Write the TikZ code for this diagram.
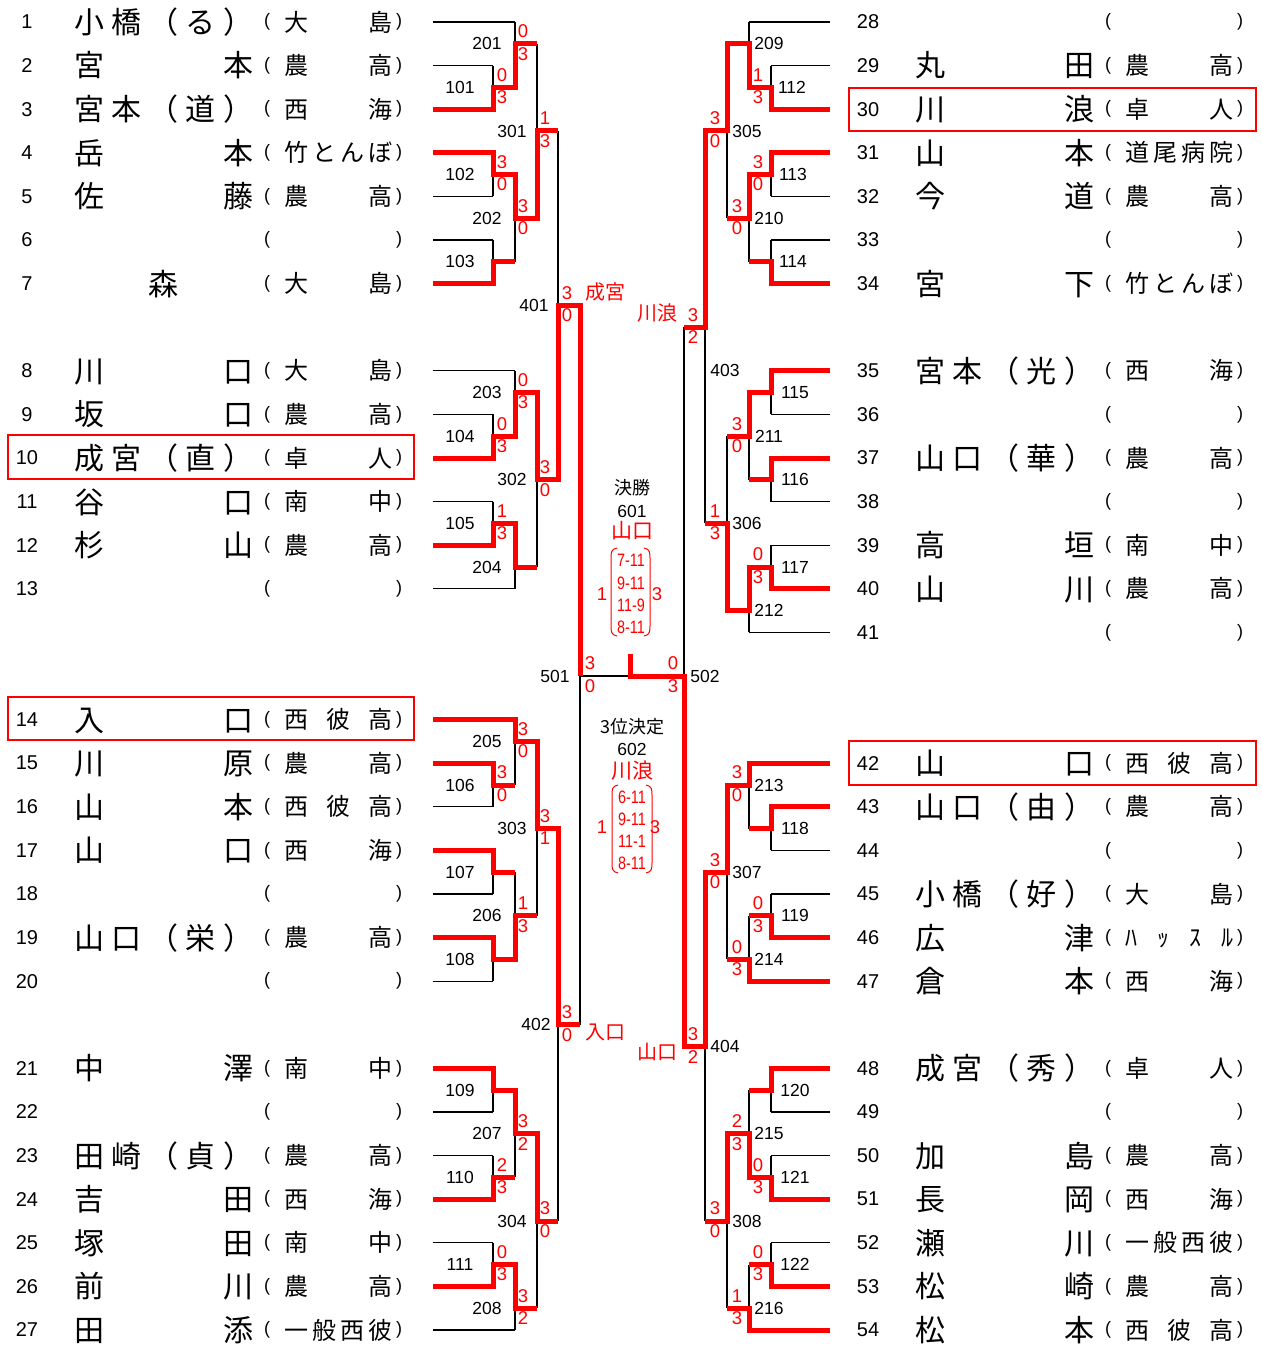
\documentclass[tikz,border=0pt]{standalone}
\usepackage{fontspec}
\setmainfont{Liberation Sans}
\newfontfamily\jp{Noto Sans CJK JP}
\newcommand\pnm[1]{\makebox[179pt][s]{\jp\fontsize{30}{30}\selectfont #1}}
\newcommand\snm[1]{\makebox[108pt][s]{\jp\fontsize{24}{24}\selectfont #1}}
\newcommand\cs[1]{\scalebox{0.8}[1]{#1}}
\tikzset{
  numt/.style={font=\fontsize{20}{20}\selectfont, inner sep=0, anchor=center},
  namet/.style={inner sep=0, anchor=base west},
  part/.style={font=\fontsize{18}{18}\selectfont, inner sep=0, anchor=center},
  mnum/.style={font=\fontsize{17.5}{17.5}\selectfont, inner sep=0, anchor=center},
  score/.style={font=\fontsize{18.5}{18.5}\selectfont, text=red, inner sep=0, anchor=center},
  ctext/.style={font=\jp\fontsize{18}{18}\selectfont, inner sep=0, anchor=center},
  rname/.style={font=\jp\fontsize{20}{20}\selectfont, text=red, inner sep=0, anchor=center},
  cscore/.style={font=\fontsize{18}{18}\selectfont, text=red, inner sep=0, anchor=center},
  skel/.style={line width=1.1pt, black},
  win/.style={line width=5pt, red, line join=miter},
  hl/.style={draw=red, line width=2pt},
  brk/.style={draw=red, line width=1pt}
}
\newcommand\prow[5]{%
  \pgfmathsetmacro\yy{22+43.6*#2}%
  \node[numt] (num#3) at ({27+#1},\yy) {#3};
  \node[namet] (nm#3) at ({74+#1},{\yy+11.4}) {\pnm{#4}};
  \node[part] (lp#3) at ({267+#1},\yy) {(};
  \node[namet] (sc#3) at ({284+#1},{\yy+9.1}) {\snm{#5}};
  \node[part] (rp#3) at ({399+#1},\yy) {)};
}
\begin{document}
\begin{tikzpicture}[x=1pt,y=-1pt]
\useasboundingbox (0,0) rectangle (1261,1348);
% ---------- player rows ----------
\prow{0}{0}{1}{小\hfill 橋\hfill （\hfill る\hfill ）}{大\hfill 島}
\prow{0}{1}{2}{宮\hfill 本}{農\hfill 高}
\prow{0}{2}{3}{宮\hfill 本\hfill （\hfill 道\hfill ）}{西\hfill 海}
\prow{0}{3}{4}{岳\hfill 本}{竹\hfill と\hfill ん\hfill ぼ}
\prow{0}{4}{5}{佐\hfill 藤}{農\hfill 高}
\prow{0}{5}{6}{}{}
\prow{0}{6}{7}{\hfill 森\hfill}{大\hfill 島}
\prow{0}{8}{8}{川\hfill 口}{大\hfill 島}
\prow{0}{9}{9}{坂\hfill 口}{農\hfill 高}
\prow{0}{10}{10}{成\hfill 宮\hfill （\hfill 直\hfill ）}{卓\hfill 人}
\prow{0}{11}{11}{谷\hfill 口}{南\hfill 中}
\prow{0}{12}{12}{杉\hfill 山}{農\hfill 高}
\prow{0}{13}{13}{}{}
\prow{0}{16}{14}{入\hfill 口}{西\hfill 彼\hfill 高}
\prow{0}{17}{15}{川\hfill 原}{農\hfill 高}
\prow{0}{18}{16}{山\hfill 本}{西\hfill 彼\hfill 高}
\prow{0}{19}{17}{山\hfill 口}{西\hfill 海}
\prow{0}{20}{18}{}{}
\prow{0}{21}{19}{山\hfill 口\hfill （\hfill 栄\hfill ）}{農\hfill 高}
\prow{0}{22}{20}{}{}
\prow{0}{24}{21}{中\hfill 澤}{南\hfill 中}
\prow{0}{25}{22}{}{}
\prow{0}{26}{23}{田\hfill 崎\hfill （\hfill 貞\hfill ）}{農\hfill 高}
\prow{0}{27}{24}{吉\hfill 田}{西\hfill 海}
\prow{0}{28}{25}{塚\hfill 田}{南\hfill 中}
\prow{0}{29}{26}{前\hfill 川}{農\hfill 高}
\prow{0}{30}{27}{田\hfill 添}{一\hfill 般\hfill 西\hfill 彼}
\prow{841}{0}{28}{}{}
\prow{841}{1}{29}{丸\hfill 田}{農\hfill 高}
\prow{841}{2}{30}{川\hfill 浪}{卓\hfill 人}
\prow{841}{3}{31}{山\hfill 本}{道\hfill 尾\hfill 病\hfill 院}
\prow{841}{4}{32}{今\hfill 道}{農\hfill 高}
\prow{841}{5}{33}{}{}
\prow{841}{6}{34}{宮\hfill 下}{竹\hfill と\hfill ん\hfill ぼ}
\prow{841}{8}{35}{宮\hfill 本\hfill （\hfill 光\hfill ）}{西\hfill 海}
\prow{841}{9}{36}{}{}
\prow{841}{10}{37}{山\hfill 口\hfill （\hfill 華\hfill ）}{農\hfill 高}
\prow{841}{11}{38}{}{}
\prow{841}{12}{39}{高\hfill 垣}{南\hfill 中}
\prow{841}{13}{40}{山\hfill 川}{農\hfill 高}
\prow{841}{14}{41}{}{}
\prow{841}{17}{42}{山\hfill 口}{西\hfill 彼\hfill 高}
\prow{841}{18}{43}{山\hfill 口\hfill （\hfill 由\hfill ）}{農\hfill 高}
\prow{841}{19}{44}{}{}
\prow{841}{20}{45}{小\hfill 橋\hfill （\hfill 好\hfill ）}{大\hfill 島}
\prow{841}{21}{46}{広\hfill 津}{ﾊ\hfill ｯ\hfill ｽ\hfill ﾙ}
\prow{841}{22}{47}{倉\hfill 本}{西\hfill 海}
\prow{841}{24}{48}{成\hfill 宮\hfill （\hfill 秀\hfill ）}{卓\hfill 人}
\prow{841}{25}{49}{}{}
\prow{841}{26}{50}{加\hfill 島}{農\hfill 高}
\prow{841}{27}{51}{長\hfill 岡}{西\hfill 海}
\prow{841}{28}{52}{瀬\hfill 川}{一\hfill 般\hfill 西\hfill 彼}
\prow{841}{29}{53}{松\hfill 崎}{農\hfill 高}
\prow{841}{30}{54}{松\hfill 本}{西\hfill 彼\hfill 高}
% highlight boxes
\draw[hl] (8,435) rectangle (414,479);
\draw[hl] (8,697) rectangle (414,740);
\draw[hl] (849,88) rectangle (1256,131);
\draw[hl] (849,741) rectangle (1256,785);
% ---------- skeleton ----------
\foreach \n/\e in {0/515,2/493,4/493,6/493,8/493,10/493,12/493,16/515,18/493,20/493,22/493,24/493,26/515,32/515,34/493,36/493,38/493,40/493,42/493,44/493,48/493,50/493,52/493,54/493,56/493,58/493,60/515}
  \draw[skel] (433,{22+21.8*\n}) -- (\e,{22+21.8*\n});
\foreach \n/\e in {0/749,2/771,4/771,6/771,8/771,10/771,12/771,16/771,18/771,20/771,22/771,24/771,26/771,28/749,34/749,36/771,38/771,40/771,42/771,44/749,48/771,50/771,52/771,54/771,56/771,58/771,60/749}
  \draw[skel] (830,{22+21.8*\n}) -- (\e,{22+21.8*\n});
\foreach \c/\a/\b/\j/\nx in {493/2/4/3/515,493/6/8/7/515,493/10/12/11/515,493/18/20/19/515,493/22/24/23/515,493/34/36/35/515,493/38/40/39/515,493/42/44/43/515,493/48/50/49/515,493/52/54/53/515,493/56/58/57/515,
 515/0/3/1/537,515/7/11/9/537,515/16/19/17/537,515/23/26/25/537,515/32/35/33/537,515/39/43/41/537,515/49/53/51/537,515/57/60/59/537,
 537/1/9/5/558,537/17/25/21/558,537/33/41/37/558,537/51/59/55/558,
 558/5/21/13/580,558/37/55/46/580,580/13/46/30/684,
 771/2/4/3/749,771/6/8/7/749,771/10/12/11/749,771/16/18/17/749,771/20/22/21/749,771/24/26/25/749,771/36/38/37/749,771/40/42/41/749,771/48/50/49/749,771/52/54/53/749,771/56/58/57/749,
 749/0/3/1/727,749/7/11/9/727,749/17/21/19/727,749/25/28/27/727,749/34/37/35/727,749/41/44/43/727,749/49/53/51/727,749/57/60/59/727,
 727/1/9/5/705,727/19/27/23/705,727/35/43/39/705,727/51/59/55/705,
 705/5/23/14/684,705/39/55/47/684,684/14/47/30/684}
 {\draw[skel] (\c,{22+21.8*\a}) -- (\c,{22+21.8*\b});
  \draw[skel] (\c,{22+21.8*\j}) -- (\nx,{22+21.8*\j});}
% ---------- winners (red) ----------
\draw[win] (433,109.2) -| (493,87.4) -| (515,43.8) -- (537,43.8);
\draw[win] (433,152.8) -| (493,174.6) -| (515,218.2) -| (537,131) -- (558,131);
\draw[win] (433,283.6) -| (493,261.8) -- (515,261.8);
\draw[win] (433,458) -| (493,436.2) -| (515,392.6) -| (537,479.8) -| (558,305.4) -| (580,676);
\draw[win] (433,545.2) -| (493,523.4) -| (515,567) -- (537,567);
\draw[win] (433,719.6) -| (515,741.4) -| (537,828.6) -| (558,1024.8) -- (580,1024.8);
\draw[win] (433,763.2) -| (493,785) -- (515,785);
\draw[win] (433,850.4) -| (493,872.2) -- (515,872.2);
\draw[win] (433,937.6) -| (493,959.4) -| (515,915.8) -- (537,915.8);
\draw[win] (433,1068.4) -| (493,1090.2) -| (515,1133.8) -| (537,1221) -- (558,1221);
\draw[win] (433,1199.2) -| (493,1177.4) -- (515,1177.4);
\draw[win] (433,1286.4) -| (493,1264.6) -| (515,1308.2) -- (537,1308.2);
\draw[win] (830,109.2) -| (771,87.4) -| (749,43.8) -| (727,131) -| (705,327.2) -- (684,327.2);
\draw[win] (830,152.8) -| (771,174.6) -| (749,218.2) -- (727,218.2);
\draw[win] (830,283.6) -| (771,261.8) -- (749,261.8);
\draw[win] (830,370.8) -| (771,392.6) -| (749,436.2) -- (727,436.2);
\draw[win] (830,458) -| (771,479.8) -- (749,479.8);
\draw[win] (830,588.8) -| (771,567) -| (749,610.6) -| (727,523.4) -- (705,523.4);
\draw[win] (830,763.2) -| (749,785) -| (727,872.2) -| (705,1046.6) -| (684,676) -| (630,654);
\draw[win] (830,806.8) -| (771,828.6) -- (749,828.6);
\draw[win] (830,937.6) -| (771,915.8) -- (749,915.8);
\draw[win] (830,981.2) -| (749,959.4) -- (727,959.4);
\draw[win] (830,1068.4) -| (771,1090.2) -- (749,1090.2);
\draw[win] (830,1199.2) -| (771,1177.4) -| (749,1133.8) -| (727,1221) -- (705,1221);
\draw[win] (830,1286.4) -| (771,1264.6) -- (749,1264.6);
\draw[win] (830,1330) -| (749,1308.2) -- (727,1308.2);
% ---------- match numbers ----------
\foreach \x/\j/\t in {460/87.4/101,460/174.6/102,460/261.8/103,460/436.2/104,460/523.4/105,460/785/106,460/872.2/107,460/959.4/108,460/1090.2/109,460/1177.4/110,460/1264.6/111,
 487/43.8/201,487/218.2/202,487/392.6/203,487/567/204,487/741.4/205,487/915.8/206,487/1133.8/207,487/1308.2/208,
 512/131/301,512/479.8/302,512/828.6/303,512/1221/304,534/305.4/401,536/1024.8/402,555/676/501,
 792/87.4/112,793/174.6/113,793/261.8/114,795/392.6/115,795/479.8/116,795/567/117,795/828.6/118,795/915.8/119,795/1090.2/120,795/1177.4/121,795/1264.6/122,
 769/43.8/209,769/218.2/210,769/436.2/211,769/610.6/212,769/785/213,769/959.4/214,769/1133.8/215,769/1308.2/216,
 747/131/305,747/523.4/306,747/872.2/307,747/1221/308,725/370.8/403,725/1046.6/404,705/676/502}
 \node[mnum] (m\t) at (\x,\j) {\t};
% ---------- scores ----------
\foreach \x/\j/\t/\b in {502/87.4/0/3,502/174.6/3/0,502/436.2/0/3,502/523.4/1/3,502/785/3/0,502/1177.4/2/3,502/1264.6/0/3,
 523/43.8/0/3,523/218.2/3/0,523/392.6/0/3,523/741.4/3/0,523/915.8/1/3,523/1133.8/3/2,523/1308.2/3/2,
 545/131/1/3,545/479.8/3/0,545/828.6/3/1,545/1221/3/0,
 567/305.4/3/0,567/1024.8/3/0,590/676/3/0,
 758/87.4/1/3,758/174.6/3/0,758/567/0/3,758/915.8/0/3,758/1177.4/0/3,758/1264.6/0/3,
 737/218.2/3/0,737/436.2/3/0,737/785/3/0,737/959.4/0/3,737/1133.8/2/3,737/1308.2/1/3,
 715/131/3/0,715/523.4/1/3,715/872.2/3/0,715/1221/3/0,
 693/327.2/3/2,693/1046.6/3/2,673/676/0/3}
 {\node[score] at (\x,{\j-12.5}) {\t};
  \node[score] at (\x,{\j+10}) {\b};}
% ---------- round winners ----------
\node[rname] (w401) at (605,292) {成宮};
\node[rname] (w403) at (657,313) {川浪};
\node[rname] (w402) at (605,1032) {入口};
\node[rname] (w404) at (657,1052) {山口};
% ---------- final ----------
\node[ctext] (f1) at (632,488) {決勝};
\node[mnum] (f2) at (632,511) {601};
\node[rname,font=\jp\fontsize{21}{21}\selectfont] (f3) at (632,531) {山口};
\node[cscore] at (631,560) {\cs{7-11}};
\node[cscore] at (631,583) {\cs{9-11}};
\node[cscore] at (631,605) {\cs{11-9}};
\node[cscore] at (631,627) {\cs{8-11}};
\node[score] at (602,594) {1};
\node[score] at (657,594) {3};
\draw[brk] (617,548) .. controls (611,549) and (611,553) .. (611,558) -- (611,626) .. controls (611,631) and (611,635) .. (617,636);
\draw[brk] (644,548) .. controls (650,549) and (650,553) .. (650,558) -- (650,626) .. controls (650,631) and (650,635) .. (644,636);
% ---------- 3rd place ----------
\node[ctext] (t1) at (632,727) {3位決定};
\node[mnum] (t2) at (632,749) {602};
\node[rname,font=\jp\fontsize{21}{21}\selectfont] (t3) at (632,771) {川浪};
\node[cscore] at (632,797) {\cs{6-11}};
\node[cscore] at (632,819) {\cs{9-11}};
\node[cscore] at (632,841) {\cs{11-1}};
\node[cscore] at (632,863) {\cs{8-11}};
\node[score] at (602,827) {1};
\node[score] at (655,827) {3};
\draw[brk] (618,785) .. controls (612,786) and (612,790) .. (612,795) -- (612,863) .. controls (612,868) and (612,872) .. (618,873);
\draw[brk] (646,785) .. controls (652,786) and (652,790) .. (652,795) -- (652,863) .. controls (652,868) and (652,872) .. (646,873);
\end{tikzpicture}
\end{document}
